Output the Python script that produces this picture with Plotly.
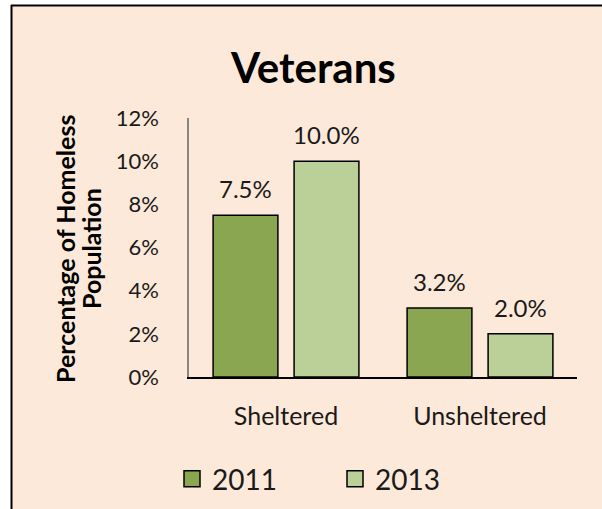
import plotly.graph_objects as go

categories = ["Sheltered", "Unsheltered"]
years = ["2011", "2013"]
values_2011 = [7.5, 3.2]
values_2013 = [10.0, 2.0]
y_ticks = [0, 2, 4, 6, 8, 10, 12]
title_text = "Veterans"
y_title_lines = ["Percentage of Homeless", "Population"]

colors = {"2011": "#8AA650", "2013": "#BBCF99"}
series = {"2011": values_2011, "2013": values_2013}

FONT = "Lato"
W, H = 602, 509
ML, MR, MT, MB = 189, 25, 118, 132
PW, PH = W - ML - MR, H - MT - MB


def px_x(px):
    return (px - ML) / PW


def px_y(py):
    return (H - MB - py) / PH


fig = go.Figure()
for yr in years:
    fig.add_trace(go.Bar(
        x=categories, y=series[yr], name=yr,
        marker=dict(color=colors[yr], line=dict(color="black", width=1.5)),
        showlegend=False,
    ))
    fig.add_trace(go.Scatter(
        x=[None], y=[None], mode="markers", name=yr,
        marker=dict(symbol="square", size=18, color=colors[yr],
                    line=dict(color="black", width=1.5)),
    ))

bargap = 0.165
n = len(years)
slot = (1 - bargap) / n
annotations = []
for i, yr in enumerate(years):
    off = -(1 - bargap) / 2 + slot * (i + 0.5)
    for j, v in enumerate(series[yr]):
        annotations.append(dict(
            x=j + off, y=v, xref="x", yref="y", text=f"{v:.1f}%",
            showarrow=False, yanchor="bottom", yshift=10,
            font=dict(family=FONT, size=24, color="#1a1a1a"),
        ))

annotations.append(dict(
    x=px_x(313), y=px_y(67), xref="paper", yref="paper", text=f"<b>{title_text}</b>",
    showarrow=False, xanchor="center", yanchor="middle",
    font=dict(family=FONT, size=42, color="black"),
))
for k, (line, cx) in enumerate(zip(y_title_lines, [65, 91])):
    annotations.append(dict(
        x=px_x(cx), y=px_y(249), xref="paper", yref="paper", text=f"<b>{line}</b>",
        showarrow=False, xanchor="center", yanchor="middle", textangle=-90,
        font=dict(family=FONT, size=25, color="black"),
    ))

shapes = [
    dict(type="rect", xref="paper", yref="paper", layer="below",
         x0=px_x(11), x1=px_x(W + 20), y0=px_y(H + 20), y1=px_y(5),
         fillcolor="#FDE9D9", line=dict(width=0)),
    dict(type="line", xref="paper", yref="paper", layer="above",
         x0=px_x(11), x1=px_x(W + 20), y0=px_y(5.5), y1=px_y(5.5),
         line=dict(color="black", width=2)),
    dict(type="line", xref="paper", yref="paper", layer="above",
         x0=px_x(11.5), x1=px_x(11.5), y0=px_y(5), y1=px_y(H + 20),
         line=dict(color="black", width=2)),
]

fig.update_layout(
    width=W, height=H,
    margin=dict(l=ML, r=MR, t=MT, b=MB, pad=0, autoexpand=False),
    paper_bgcolor="white", plot_bgcolor="rgba(0,0,0,0)",
    barmode="group", bargap=bargap, bargroupgap=0.2,
    font=dict(family=FONT, color="#1a1a1a"),
    annotations=annotations, shapes=shapes,
    legend=dict(orientation="h", x=px_x(172), y=px_y(479), xanchor="left", yanchor="middle",
                font=dict(family=FONT, size=28, color="#1a1a1a"),
                bgcolor="rgba(0,0,0,0)", entrywidth=118, entrywidthmode="pixels",
                itemsizing="trace"),
    xaxis=dict(showline=True, linecolor="black", linewidth=1.5, showgrid=False,
               ticks="", tickfont=dict(family=FONT, size=25, color="#1a1a1a"),
               ticklabelstandoff=16, fixedrange=True),
    yaxis=dict(range=[0, 12], tickvals=y_ticks, ticktext=[f"{t}%" for t in y_ticks],
               showline=True, linecolor="#868686", linewidth=1.5, showgrid=False,
               zeroline=False, ticks="", tickfont=dict(family=FONT, size=22, color="#1a1a1a"),
               ticklabelstandoff=24, fixedrange=True),
)

fig.write_html(
    "out.html",
    config={"displayModeBar": False},
    post_script="document.body.style.margin='0';document.body.style.overflow='hidden';",
)
